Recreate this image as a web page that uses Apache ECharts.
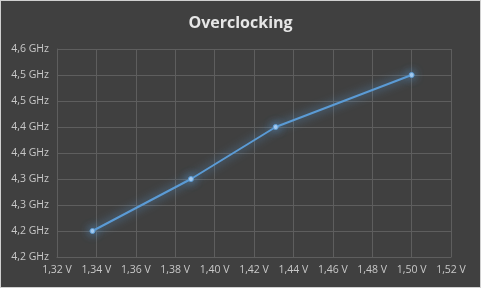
<!DOCTYPE html>
<html><head><meta charset="utf-8">
<script src="https://cdn.jsdelivr.net/npm/echarts@6/dist/echarts.min.js"></script>
<style>
html,body{margin:0;padding:0;background:#404040;}
#c{width:481px;height:288px;box-sizing:border-box;border:1px solid #d0d0d0;}
</style></head>
<body><div id="c"></div>
<script>
const voltages = [1.338, 1.388, 1.431, 1.500];
const clocks = [4.25, 4.35, 4.45, 4.55];
const yTickLabels = ['4,2 GHz','4,2 GHz','4,3 GHz','4,3 GHz','4,4 GHz','4,4 GHz','4,5 GHz','4,5 GHz','4,6 GHz'];
const xTickLabels = ['1,32 V','1,34 V','1,36 V','1,38 V','1,40 V','1,42 V','1,44 V','1,46 V','1,48 V','1,50 V','1,52 V'];

const chart = echarts.init(document.getElementById('c'), null, {renderer:'canvas'});
const font = '"Open Sans", "Liberation Sans", sans-serif';
chart.setOption({
  backgroundColor: '#404040',
  animation: false,
  title: {
    text: 'Overclocking', left: 'center', top: 9,
    textStyle: {color: '#e6e6e6', fontSize: 16, fontWeight: 'bold', fontFamily: font}
  },
  grid: {left: 56, right: 29, top: 48, bottom: 30, containLabel: false},
  xAxis: {
    type: 'value', min: 1.32, max: 1.52, interval: 0.02,
    axisLine: {show: true, lineStyle: {color: '#5e5e5e'}},
    axisTick: {show: false},
    splitLine: {show: true, lineStyle: {color: '#5e5e5e', width: 1}},
    axisLabel: {
      color: '#c8c8c8', fontSize: 10.5, fontFamily: font, margin: 8,
      formatter: (v) => xTickLabels[Math.round((v - 1.32) / 0.02)]
    }
  },
  yAxis: {
    type: 'value', min: 4.2, max: 4.6, interval: 0.05,
    axisLine: {show: true, lineStyle: {color: '#5e5e5e'}},
    axisTick: {show: false},
    splitLine: {show: true, lineStyle: {color: '#5e5e5e', width: 1}},
    axisLabel: {
      color: '#c8c8c8', fontSize: 10.5, fontFamily: font, margin: 8,
      formatter: (v) => yTickLabels[Math.round((v - 4.2) / 0.05)]
    }
  },
  series: [{
    type: 'line',
    data: voltages.map((v, i) => [v, clocks[i]]),
    symbol: 'circle', symbolSize: 5,
    lineStyle: {color: '#5b9bd5', width: 2, shadowColor: 'rgba(91,155,213,1)', shadowBlur: 10},
    itemStyle: {color: '#a9cdf0', borderColor: '#5b9bd5', borderWidth: 1, shadowColor: 'rgba(91,155,213,1)', shadowBlur: 10}
  }]
});
</script></body></html>
